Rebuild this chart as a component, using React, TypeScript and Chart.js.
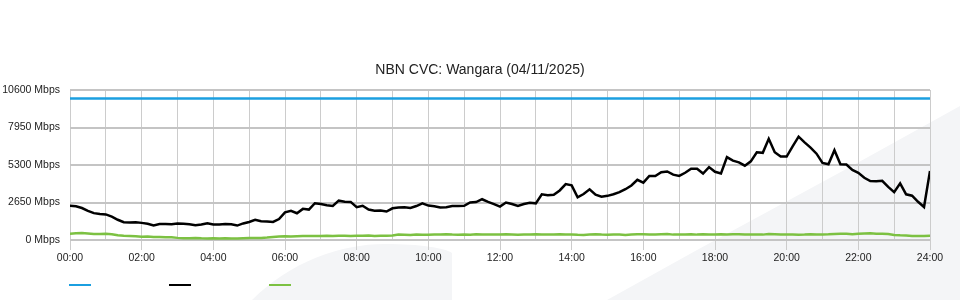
import React, { useEffect, useRef } from "react";
import { Chart, registerables } from "chart.js";

Chart.register(...registerables);

const TITLE = "NBN CVC: Wangara (04/11/2025)";
const SAMPLE_MINUTES = 10;

const xTickLabels = [
  "00:00", "02:00", "04:00", "06:00", "08:00", "10:00", "12:00",
  "14:00", "16:00", "18:00", "20:00", "22:00", "24:00",
];
const yTickValues = [0, 2650, 5300, 7950, 10600];

const capacityHours = [0, 24];
const capacityMbps = [10000, 10000];

// 10-minute samples, 00:00 .. 24:00
const downloadMbps = [
  2420, 2380, 2260, 2060, 1900, 1830,
  1810, 1650, 1430, 1260, 1240, 1250,
  1210, 1150, 1030, 1130, 1130, 1110,
  1170, 1140, 1110, 1050, 1090, 1190,
  1100, 1090, 1130, 1110, 1020, 1170,
  1270, 1420, 1320, 1310, 1280, 1480,
  1950, 2060, 1890, 2200, 2150, 2600,
  2540, 2460, 2410, 2780, 2710, 2690,
  2320, 2420, 2150, 2070, 2080, 2010,
  2240, 2300, 2310, 2260, 2400, 2590,
  2430, 2390, 2300, 2320, 2400, 2410,
  2420, 2650, 2680, 2880, 2690, 2540,
  2360, 2650, 2540, 2400, 2540, 2630,
  2590, 3230, 3160, 3200, 3500, 3950,
  3860, 3020, 3250, 3580, 3200, 3060,
  3120, 3230, 3380, 3590, 3850, 4250,
  4050, 4530, 4520, 4790, 4840, 4620,
  4530, 4750, 5040, 5040, 4700, 5150,
  4820, 4700, 5860, 5610, 5490, 5250,
  5560, 6200, 6160, 7150, 6200, 5900,
  5900, 6620, 7300, 6900, 6530, 6100,
  5450, 5350, 6350, 5350, 5330, 4950,
  4750, 4400, 4170, 4150, 4180, 3750,
  3380, 4000, 3230, 3130, 2700, 2330,
  4880,
];

const uploadMbps = [
  450, 470, 490, 460, 430, 420,
  440, 400, 330, 300, 280, 260,
  230, 240, 220, 210, 200, 190,
  150, 130, 120, 140, 120, 110,
  130, 110, 120, 110, 100, 120,
  140, 150, 150, 170, 220, 250,
  260, 250, 270, 280, 280, 290,
  290, 300, 290, 300, 300, 290,
  300, 300, 310, 290, 300, 300,
  320, 380, 370, 360, 390, 370,
  370, 390, 380, 400, 380, 370,
  380, 370, 400, 380, 390, 380,
  380, 400, 390, 370, 380, 390,
  400, 380, 390, 380, 400, 380,
  390, 370, 360, 380, 400, 380,
  370, 390, 380, 360, 380, 400,
  400, 390, 380, 400, 420, 380,
  380, 390, 410, 380, 400, 390,
  380, 400, 390, 410, 400, 380,
  380, 380, 380, 420, 400, 380,
  380, 390, 370, 380, 400, 390,
  390, 400, 430, 450, 440, 400,
  440, 460, 470, 450, 440, 430,
  360, 330, 310, 290, 280, 290,
  300,
];

const COLORS = {
  capacity: "#1b9fe0",
  download: "#000000",
  upload: "#7cc142",
  grid: "#cccccc",
  text: "#222222",
  watermark: "#f4f5f7",
};

const FONT = "'Liberation Sans', Arial, Helvetica, sans-serif";

const watermarkPlugin = {
  id: "watermark",
  beforeDraw(chart: any) {
    const ctx = chart.ctx as CanvasRenderingContext2D;
    ctx.save();
    ctx.fillStyle = COLORS.watermark;
    ctx.beginPath();
    ctx.moveTo(252, 300);
    ctx.bezierCurveTo(290, 262, 340, 244, 385, 244);
    ctx.bezierCurveTo(420, 244, 445, 248, 452, 253);
    ctx.lineTo(452, 300);
    ctx.closePath();
    ctx.fill();
    ctx.beginPath();
    ctx.moveTo(607, 300);
    ctx.lineTo(697, 250);
    ctx.lineTo(850, 167);
    ctx.lineTo(960, 106);
    ctx.lineTo(960, 300);
    ctx.closePath();
    ctx.fill();
    ctx.restore();
  },
};

export default function App() {
  const canvasRef = useRef<HTMLCanvasElement | null>(null);

  useEffect(() => {
    document.body.style.margin = "0";
    const canvas = canvasRef.current;
    if (!canvas) return;

    const toPoints = (vals: number[]) =>
      vals.map((v, i) => ({ x: (i * SAMPLE_MINUTES) / 60, y: v }));

    const chart = new Chart(canvas, {
      type: "line",
      data: {
        datasets: [
          {
            label: "Capacity",
            data: capacityHours.map((h, i) => ({ x: h, y: capacityMbps[i] })),
            borderColor: COLORS.capacity,
            borderWidth: 2.5,
            pointRadius: 0,
            tension: 0,
          },
          {
            label: "Download",
            data: toPoints(downloadMbps),
            borderColor: COLORS.download,
            borderWidth: 2.5,
            pointRadius: 0,
            tension: 0,
          },
          {
            label: "Upload",
            data: toPoints(uploadMbps),
            borderColor: COLORS.upload,
            borderWidth: 2.5,
            pointRadius: 0,
            tension: 0,
          },
        ],
      },
      options: {
        animation: false,
        responsive: false,
        maintainAspectRatio: false,
        layout: { padding: 0 },
        plugins: {
          legend: { display: false },
          tooltip: { enabled: false },
          title: {
            display: true,
            text: TITLE,
            color: COLORS.text,
            font: { family: FONT, size: 14, weight: "normal" },
            padding: { top: 62, bottom: 11.2 },
          },
        },
        scales: {
          x: {
            type: "linear",
            min: 0,
            max: 24,
            ticks: {
              stepSize: 1,
              autoSkip: false,
              maxRotation: 0,
              padding: 2,
              color: COLORS.text,
              font: { family: FONT, size: 10.5 },
              callback: (v: any) => {
                const n = Number(v);
                return n % 2 === 0 ? xTickLabels[n / 2] : "";
              },
            },
            grid: {
              color: COLORS.grid,
              lineWidth: 1,
              drawTicks: true,
              tickLength: 10,
              tickColor: (ctx: any) =>
                ctx.tick && Number(ctx.tick.value) % 2 === 0 ? COLORS.grid : "rgba(0,0,0,0)",
            },
            border: { display: false },
            afterFit: (scale: any) => {
              scale.height = 60;
            },
          },
          y: {
            type: "linear",
            position: "left",
            min: 0,
            max: 10600,
            afterBuildTicks: (scale: any) => {
              scale.ticks = yTickValues.map((v) => ({ value: v }));
            },
            ticks: {
              padding: 10,
              color: COLORS.text,
              font: { family: FONT, size: 10.5 },
              callback: (v: any) => `${v} Mbps`,
            },
            grid: {
              color: "#c4c4c4",
              lineWidth: 2,
              drawTicks: false,
            },
            border: { display: false },
            afterFit: (scale: any) => {
              scale.width = 70;
            },
          },
          yRightSpacer: {
            type: "linear",
            position: "right",
            min: 0,
            max: 10600,
            grid: { display: false, drawTicks: false },
            ticks: { display: false },
            border: { display: false },
            afterFit: (scale: any) => {
              scale.width = 30;
            },
          },
        },
      },
      plugins: [watermarkPlugin],
    });

    return () => chart.destroy();
  }, []);

  const legendItems = [COLORS.capacity, COLORS.download, COLORS.upload];

  return (
    <div style={{ position: "relative", width: 960, height: 300, background: "#fff" }}>
      <canvas ref={canvasRef} width={960} height={300} style={{ display: "block" }} />
      {legendItems.map((c, i) => (
        <span
          key={i}
          style={{
            position: "absolute",
            left: 69 + i * 100,
            top: 284,
            width: 22,
            height: 2,
            background: c,
          }}
        />
      ))}
    </div>
  );
}
